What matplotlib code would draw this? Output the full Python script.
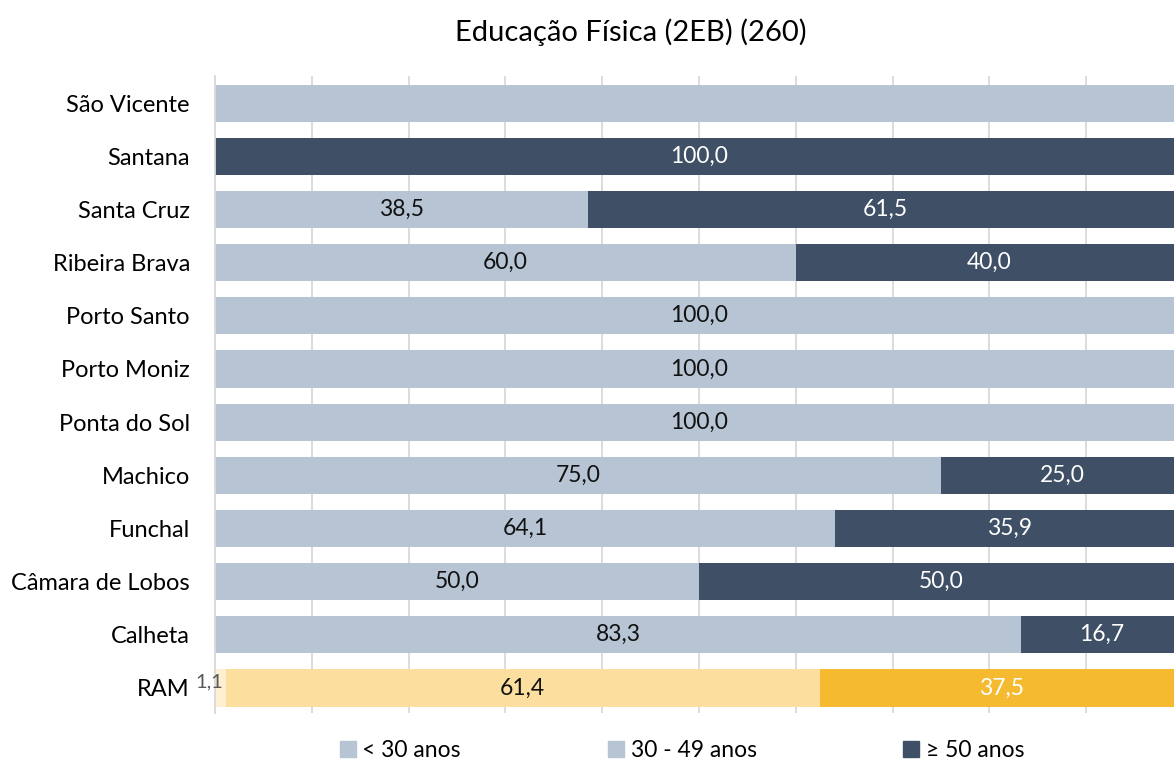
import matplotlib.pyplot as plt
from matplotlib.patches import Patch

plt.rcParams['font.family'] = ['Lato', 'DejaVu Sans']

# dados (de baixo para cima)
regioes = ['RAM', 'Calheta', 'Câmara de Lobos', 'Funchal', 'Machico', 'Ponta do Sol',
           'Porto Moniz', 'Porto Santo', 'Ribeira Brava', 'Santa Cruz', 'Santana', 'São Vicente']
menos_30 = [1.1, 0, 0, 0, 0, 0, 0, 0, 0, 0, 0, 100]
de_30_49 = [61.4, 83.3, 50.0, 64.1, 75.0, 100.0, 100.0, 100.0, 60.0, 38.5, 0, 0]
mais_50 = [37.5, 16.7, 50.0, 35.9, 25.0, 0, 0, 0, 40.0, 61.5, 100.0, 0]
series = ['< 30 anos', '30 - 49 anos', '≥ 50 anos']

cor_claro = '#B7C4D4'
cor_escuro = '#3E4F66'
ram_cores = ['#FDEFCF', '#FCDF9F', '#F6BA30']

fig = plt.figure(figsize=(11.74, 7.64), dpi=100)
# o eixo estende-se um pouco para lá da margem direita (como no original)
ax = fig.add_axes([0.1831, 0.0668, 0.8245, 0.8337])

y = list(range(len(regioes)))
alt = 0.7
for i in y:
    if regioes[i] == 'RAM':
        c = ram_cores
    else:
        c = [cor_claro, cor_claro, cor_escuro]
    ax.barh(i, menos_30[i], height=alt, color=c[0], zorder=2)
    ax.barh(i, de_30_49[i], left=menos_30[i], height=alt, color=c[1], zorder=2)
    ax.barh(i, mais_50[i], left=menos_30[i] + de_30_49[i], height=alt, color=c[2], zorder=2)

    if de_30_49[i] > 0:
        ax.text(menos_30[i] + de_30_49[i] / 2, i, f'{de_30_49[i]:.1f}'.replace('.', ','),
                ha='center', va='center', fontsize=16.5, color='#111111', zorder=3)
    if mais_50[i] > 0:
        ax.text(menos_30[i] + de_30_49[i] + mais_50[i] / 2, i, f'{mais_50[i]:.1f}'.replace('.', ','),
                ha='center', va='center', fontsize=16.5, color='white', zorder=3)
    if regioes[i] == 'RAM':
        ax.text(-0.6, i + 0.12, f'{menos_30[i]:.1f}'.replace('.', ','),
                ha='center', va='center', fontsize=14.5, color='#595959', zorder=3)

ax.set_xlim(0, 100)
ax.set_ylim(-0.47, 11.51)
ax.set_xticks(range(0, 101, 10))
ax.set_xticklabels([])
ax.tick_params(axis='x', length=0)
ax.tick_params(axis='y', length=0, labelsize=17, pad=18)
ax.set_yticks(y)
ax.set_yticklabels(regioes)
ax.grid(axis='x', color='#D9D9D9', linewidth=1.3, zorder=0)
for s in ['top', 'right', 'bottom']:
    ax.spines[s].set_visible(False)
ax.spines['left'].set_color('#D9D9D9')
ax.spines['left'].set_linewidth(1.3)

fig.text(0.537, 0.958, 'Educação Física (2EB) (260)', ha='center', va='center', fontsize=21)

handles = [Patch(color=cor_claro), Patch(color=cor_claro), Patch(color=cor_escuro)]
fig.legend(handles, series, loc='center', bbox_to_anchor=(0.581, 0.018), ncol=3, frameon=False,
           fontsize=16.5, handlelength=0.7, handleheight=0.7, handletextpad=0.3, columnspacing=6.4)

fig.savefig('out.png', dpi=100)
